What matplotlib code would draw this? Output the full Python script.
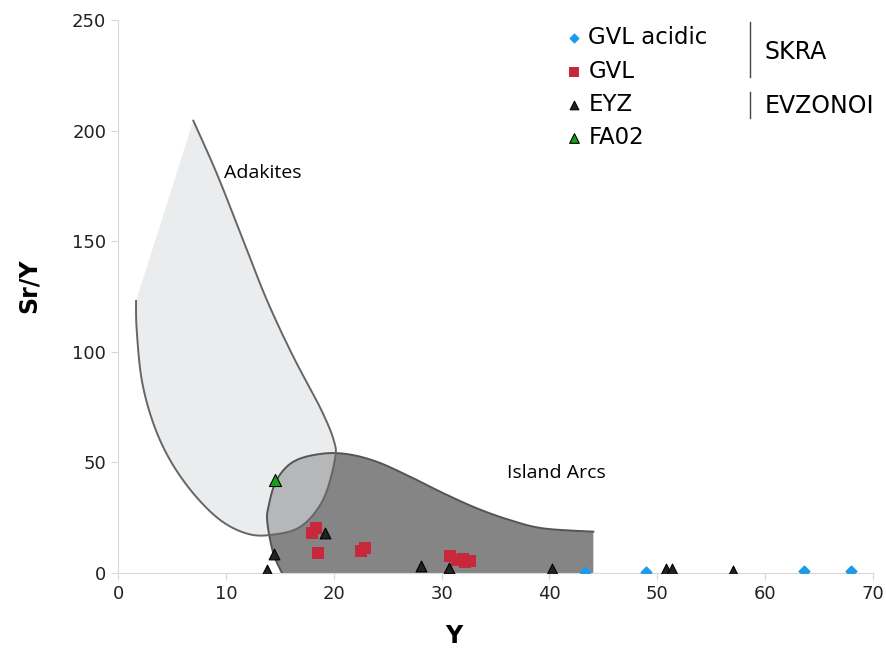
import numpy as np
import matplotlib.pyplot as plt
from matplotlib.lines import Line2D

# Sample data (Y ppm, Sr/Y)
gvl_acidic_y = [43.3, 49.0, 63.6, 68.0]
gvl_acidic_sry = [0.6, 0.6, 0.8, 0.8]

gvl_y = [18.4, 18.0, 18.5, 22.9, 22.5, 30.8, 31.4, 32.0, 32.6, 32.2]
gvl_sry = [20.5, 18.0, 9.0, 11.5, 9.8, 7.5, 6.0, 6.3, 5.3, 5.0]

eyz_y = [13.8, 14.5, 19.2, 28.1, 30.7, 40.2, 50.8, 51.4, 57.0]
eyz_sry = [1.4, 8.4, 17.9, 3.3, 2.4, 1.8, 1.7, 1.7, 0.8]

fa02_y = [14.6]
fa02_sry = [42.0]

# Field outlines (Y, Sr/Y)
adakite_x = [6.98, 9.15, 11.6, 13.8, 16.25, 18.7, 20.0, 20.1, 19.0, 16.9,
             14.1, 11.9, 9.46, 6.98, 4.82, 3.27, 2.2, 1.73, 1.67]
adakite_y = [204.5, 180.7, 150.5, 123.4, 97.8, 75.2, 60.1, 51.1, 33.0, 20.9,
             17.2, 17.9, 24.0, 36.0, 51.1, 67.7, 87.3, 109.9, 123.0]

arc_x = [15.2, 14.4, 13.85, 13.95, 14.7, 16.25, 18.7, 21.2, 24.0, 27.1,
         30.2, 33.3, 36.3, 39.4, 44.07, 44.07]
arc_y = [0.0, 8.9, 22.5, 30.0, 42.0, 50.3, 53.8, 53.8, 50.3, 43.5,
         36.0, 29.2, 24.0, 20.2, 18.7, 0.0]


def smooth(xs, ys, n=20):
    # Catmull-Rom through the traced points
    p = np.column_stack([xs, ys]).astype(float)
    p = np.vstack([p[0], p, p[-1]])
    out = []
    for i in range(1, len(p) - 2):
        p0, p1, p2, p3 = p[i - 1], p[i], p[i + 1], p[i + 2]
        t = np.linspace(0, 1, n, endpoint=False)[:, None]
        out.append(0.5 * ((2 * p1) + (-p0 + p2) * t
                          + (2 * p0 - 5 * p1 + 4 * p2 - p3) * t**2
                          + (-p0 + 3 * p1 - 3 * p2 + p3) * t**3))
    out.append(p[-2][None, :])
    out = np.vstack(out)
    return out[:, 0], out[:, 1]


fig = plt.figure(figsize=(8.86, 6.48), dpi=100)
ax = fig.add_axes([0.1332, 0.1157, 0.8521, 0.8534])

# Island arc field
ix, iy = smooth(arc_x[:-1], arc_y[:-1])
ix = np.append(ix, arc_x[-1])
iy = np.append(iy, arc_y[-1])
ax.fill(ix, iy, color='#858585', lw=0, zorder=1)

# Adakite field
ax_, ay_ = smooth(adakite_x, adakite_y)
ax.fill(ax_, ay_, color='#dcdee0', alpha=0.57, lw=0, zorder=2)

# outlines
ax.plot(ix[:-1], iy[:-1], color='#555555', lw=1.4, zorder=3)
ax.plot(ax_, ay_, color='#666666', lw=1.4, zorder=3)

ax.scatter(gvl_acidic_y, gvl_acidic_sry, marker='D', s=30, color='#1e9be8',
           edgecolors='#1e9be8', zorder=5, label='GVL acidic')
ax.scatter(gvl_y, gvl_sry, marker='s', s=80, color='#c8283c', lw=0,
           zorder=5, label='GVL')
ax.scatter(eyz_y, eyz_sry, marker='^', s=60, color='#222222',
           edgecolors='#000000', lw=0.8, zorder=6, label='EYZ')
ax.scatter(fa02_y, fa02_sry, marker='^', s=75, color='#16a216',
           edgecolors='#000000', lw=0.8, zorder=6, label='FA02')

ax.text(9.8, 180.8, 'Adakites', fontsize=14, family='Open Sans',
        va='center', zorder=7)
ax.text(36.1, 45.2, 'Island Arcs', fontsize=14, family='Open Sans',
        va='center', zorder=7)

ax.set_xlim(0, 70)
ax.set_ylim(0, 250)
ax.set_xticks(np.arange(0, 71, 10))
ax.set_yticks(np.arange(0, 251, 50))
for s in ['top', 'right']:
    ax.spines[s].set_visible(False)
for s in ['left', 'bottom']:
    ax.spines[s].set_color('#d8d8d8')
ax.tick_params(colors='#d8d8d8', labelcolor='#222222', labelsize=13,
               length=5)
ax.set_xlabel('Y', fontsize=17, fontweight='bold')
ax.set_ylabel('Sr/Y', fontsize=17, fontweight='bold')
ax.xaxis.set_label_coords(0.445, -0.092)
ax.yaxis.set_label_coords(-0.103, 0.52)

leg = ax.legend(loc='upper left', bbox_to_anchor=(0.573, 1.005), frameon=False,
                fontsize=16.5, handletextpad=0.05, labelspacing=0.45,
                borderaxespad=0, handlelength=1.2, scatterpoints=1,
                markerscale=0.8)

fig.text(0.863, 0.920, 'SKRA', fontsize=17, va='center')
fig.text(0.863, 0.837, 'EVZONOI', fontsize=17, va='center')
fig.add_artist(Line2D([0.8465, 0.8465], [0.881, 0.966], color='#444444', lw=1))
fig.add_artist(Line2D([0.8465, 0.8465], [0.818, 0.858], color='#444444', lw=1))

fig.savefig('out.png', dpi=100)
